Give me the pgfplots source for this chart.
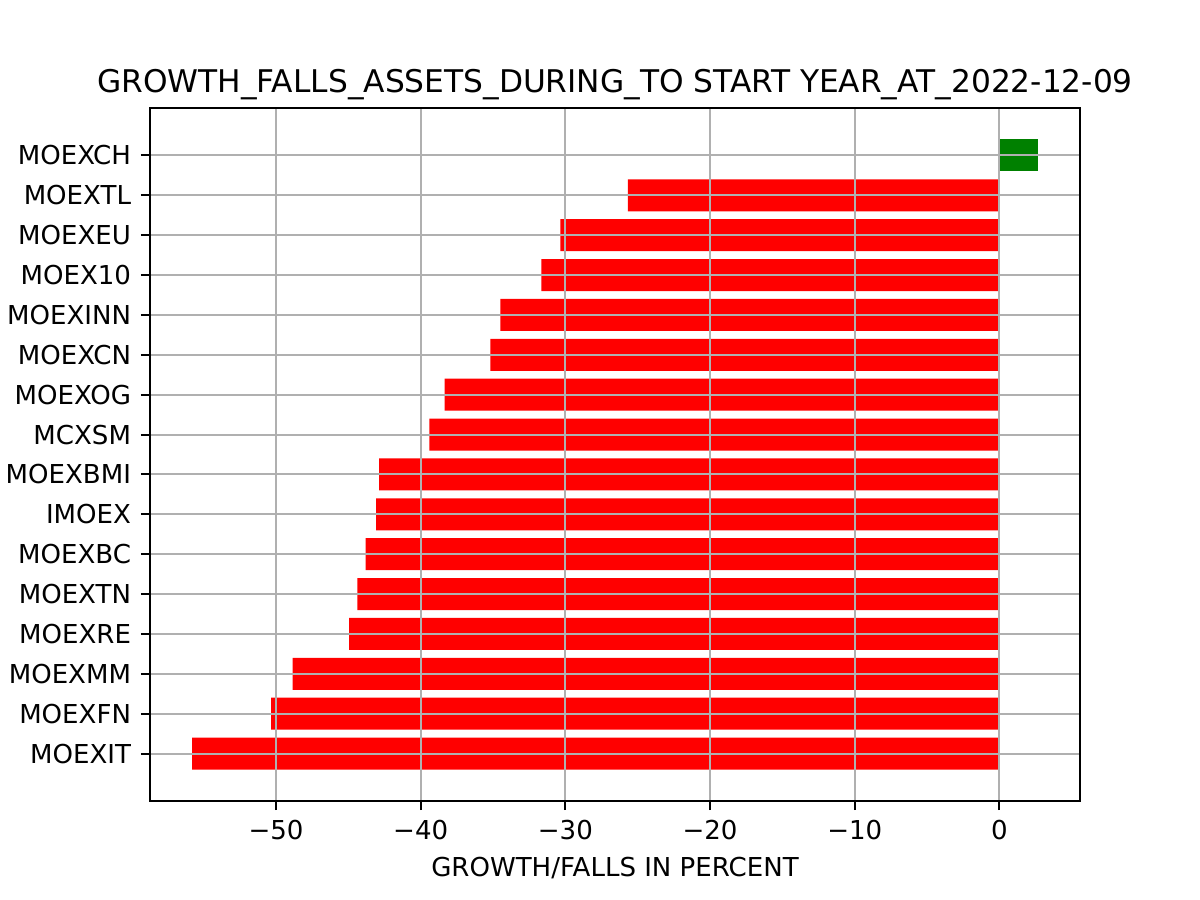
\documentclass[border=0pt]{standalone}
\usepackage{fontspec}
\setmainfont{DejaVu Sans}
\usepackage{pgfplots}
\pgfplotsset{compat=1.18}
\definecolor{gridgray}{HTML}{B0B0B0}
\definecolor{mplgreen}{HTML}{008000}
\begin{document}
\begin{tikzpicture}
\path[use as bounding box] (-57.6pt,-38.016pt) rectangle (403.2pt,307.584pt);
\begin{axis}[
 at={(0,0)}, anchor=south west, scale only axis,
 width=357.12pt, height=266.112pt,
 xmin=-58.71, xmax=5.57, ymin=-1.19, ymax=16.19,
 xtick={-50,-40,-30,-20,-10,0},
 xticklabels={−50,−40,−30,−20,−10,0},
 ytick={0,...,15},
 yticklabels={MOEXIT,MOEXFN,MOEXMM,MOEXRE,MOEXTN,MOEXBC,IMOEX,MOEXBMI,MCXSM,MOEXOG,MOEXCN,MOEXINN,MOEX10,MOEXEU,MOEXTL,MOEXCH},
 tick align=outside, major tick length=3.5pt,
 xtick pos=bottom, ytick pos=left,
 grid=major, grid style={gridgray, line width=0.8pt},
 axis line style={line width=0.8pt},
 every tick/.style={black, line width=0.8pt},
 axis on top,
 xbar, bar width=0.8, bar shift=0pt,
 tick label style={font=\fontsize{10}{12}\selectfont},
 xticklabel style={anchor=base, yshift=-11.2pt, inner sep=0pt},
 yticklabel style={anchor=east, inner sep=0pt, xshift=-3.6pt},
 title={GROWTH\_FALLS\_ASSETS\_DURING\_TO START YEAR\_AT\_2022-12-09},
 title style={at={(0.5,1)}, anchor=base, yshift=0.1pt, inner sep=0pt, font=\fontsize{12}{14}\selectfont},
 xlabel={GROWTH/FALLS IN PERCENT},
 xlabel style={at={(0.5,0)}, anchor=base, yshift=-28.8pt, inner sep=0pt, font=\fontsize{10}{12}\selectfont},
]
\addplot[fill=red, draw=none] coordinates {
(-55.79,0) (-50.34,1) (-48.85,2) (-44.94,3) (-44.37,4) (-43.81,5) (-43.08,6) (-42.87,7)
(-39.40,8) (-38.34,9) (-35.19,10) (-34.50,11) (-31.66,12) (-30.34,13) (-25.68,14)
};
\addplot[fill=mplgreen, draw=none] coordinates {(2.65,15)};
\end{axis}
\end{tikzpicture}
\end{document}
